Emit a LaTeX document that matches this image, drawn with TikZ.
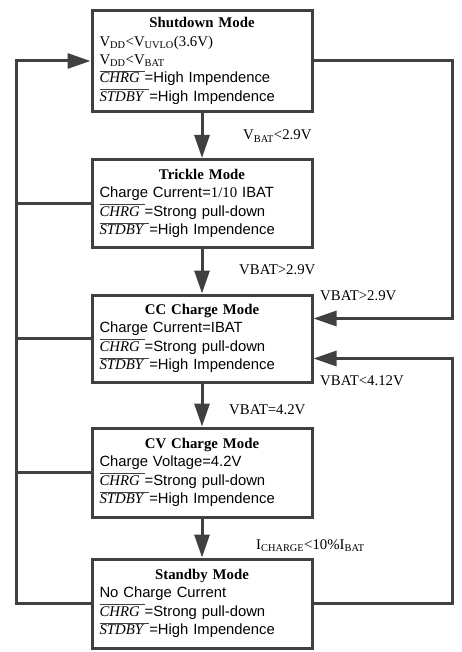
\documentclass[tikz,border=0pt]{standalone}
\usepackage{fontspec}
\setmainfont{Liberation Serif}
\newfontfamily\arialf{Liberation Sans}
\usetikzlibrary{arrows.meta}
\definecolor{ln}{HTML}{404040}
\newcommand\ovl[1]{\leavevmode\vbox{\color{ln}\hrule height 0.9pt\kern1.3pt\hbox{\color{black}#1}}}
\newcommand\sig[1]{\ovl{\textit{#1}\ }}
\newcommand\ar[1]{{\arialf #1}}
\tikzset{
  box/.style={draw=ln, line width=3pt, minimum width=220pt, text width=205pt,
    inner sep=0pt, font=\fontsize{14.8}{18.3}\selectfont,
    execute at begin node={\lineskiplimit=-20pt\relax}},
  conn/.style={draw=ln, line width=3pt},
  arr/.style={conn, -{Triangle[length=23pt,width=15pt]}},
  lab/.style={anchor=base west, inner sep=0pt, font=\fontsize{14.8}{18}\selectfont}
}
\begin{document}
\begin{tikzpicture}[x=1pt,y=-1pt]
\useasboundingbox (0,0) rectangle (461,652);
\node[box, minimum height=101pt] (sd) at (202,61) {\centering\textbf{Shutdown Mode}\par\raggedright
V\textsubscript{DD}<V\textsubscript{UVLO}(3.6V)\\
V\textsubscript{DD}<V\textsubscript{BAT}\\
\sig{CHRG}\ar{=High Impendence}\\
\sig{STDBY}\ar{=High Impendence}\par};
\node[box, minimum height=88pt] (tr) at (202,203.5) {\centering\textbf{Trickle Mode}\par\raggedright
\ar{Charge Current=}1/10\ar{ IBAT}\\
\sig{CHRG}\ar{=Strong pull-down}\\
\sig{STDBY}\ar{=High Impendence}\par};
\node[box, minimum height=87pt] (cc) at (202,338.5) {\centering\textbf{CC Charge Mode}\par\raggedright
\ar{Charge Current=IBAT}\\
\sig{CHRG}\ar{=Strong pull-down}\\
\sig{STDBY}\ar{=High Impendence}\par};
\node[box, minimum height=89pt] (cv) at (202,472.5) {\centering\textbf{CV Charge Mode}\par\raggedright
\ar{Charge Voltage=4.2V}\\
\sig{CHRG}\ar{=Strong pull-down}\\
\sig{STDBY}\ar{=High Impendence}\par};
\node[box, minimum height=89pt] (sb) at (202,603.5) {\centering\textbf{Standby Mode}\par\raggedright
\ar{No Charge Current}\\
\sig{CHRG}\ar{=Strong pull-down}\\
\sig{STDBY}\ar{=High Impendence}\par};
\coordinate (lx) at (16,0);
\coordinate (rx) at (452,0);
\coordinate (ccin1) at ([yshift=20pt]cc.east);
\coordinate (ccin2) at ([yshift=-20pt]cc.east);
% vertical flow
\draw[arr] (sd) -- (tr);
\draw[arr] (tr) -- (cc);
\draw[arr] (cc) -- (cv);
\draw[arr] (cv) -- (sb);
% left loop
\draw[arr] (sb.west) -- (sb.west -| lx) -- (sd.west -| lx) -- (sd.west);
\draw[conn] (tr.west) -- (tr.west -| lx);
\draw[conn] (cc.west) -- (cc.west -| lx);
\draw[conn] (cv.west) -- (cv.west -| lx);
% right loops
\draw[arr] (sd.east) -- (sd.east -| rx) -- (ccin1 -| rx) -- (ccin1);
\draw[arr] (sb.east) -- (sb.east -| rx) -- (ccin2 -| rx) -- (ccin2);
% labels
\node[lab] (l1) at (243,140) {V\textsubscript{BAT}<2.9V};
\node[lab] (l2) at (239,274) {VBAT>2.9V};
\node[lab] (l3) at (320,300) {VBAT>2.9V};
\node[lab] (l4) at (320,385) {VBAT<4.12V};
\node[lab] (l5) at (229,414) {VBAT=4.2V};
\node[lab] (l6) at (256,549) {I\textsubscript{CHARGE}<10\%I\textsubscript{BAT}};
\end{tikzpicture}
\end{document}
